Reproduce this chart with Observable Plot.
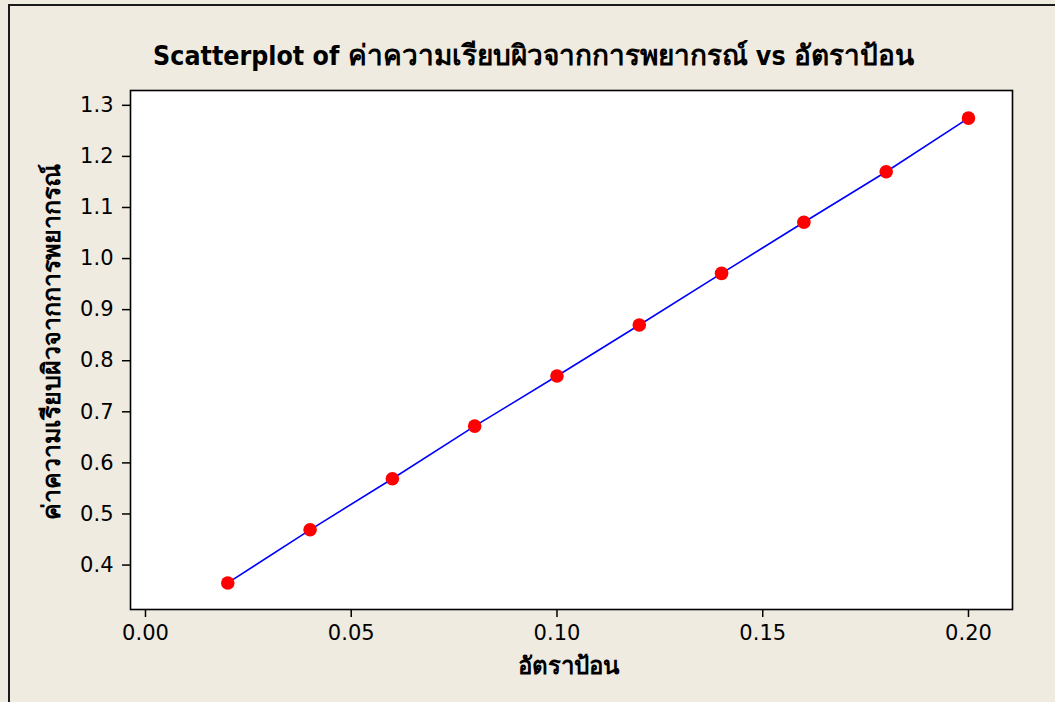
<!DOCTYPE html>
<html>
<head>
<meta charset="utf-8">
<script src="https://cdn.jsdelivr.net/npm/d3@7"></script>
<script src="https://cdn.jsdelivr.net/npm/@observablehq/plot@0.6"></script>
<style>
  html, body { margin: 0; padding: 0; }
  body {
    width: 1055px; height: 702px; overflow: hidden; position: relative;
    background: #EFEBE1;
    font-family: "DejaVu Sans", sans-serif;
  }
  #frame {
    position: absolute; left: 8px; top: 4px; width: 1100px; height: 800px;
    border: 2px solid #1a1a1a; pointer-events: none; box-sizing: border-box;
  }
  #title {
    height: 78px; box-sizing: border-box; padding-top: 40px; padding-left: 12px;
    font-family: "DejaVu Sans Condensed", "DejaVu Sans", sans-serif;
    font-size: 26.5px; font-weight: bold; line-height: 32px; text-align: center; color: #000;
    white-space: nowrap;
  }
  #title .th { font-size: 28px; }
  #chart svg { display: block; }
</style>
</head>
<body>
<div id="frame"></div>
<div id="title"></div>
<div id="chart"></div>
<script>
const titlePrefix = "Scatterplot of ";
const titleJoin = " vs ";
const xLabel = "อัตราป้อน";
const yLabel = "ค่าความเรียบผิวจากการพยากรณ์";
const feedRate = [0.02, 0.04, 0.06, 0.08, 0.10, 0.12, 0.14, 0.16, 0.18, 0.20];
const roughness = [0.365, 0.469, 0.569, 0.672, 0.770, 0.870, 0.971, 1.071, 1.170, 1.275];
const xTicks = [0.00, 0.05, 0.10, 0.15, 0.20];
const yTicks = [0.4, 0.5, 0.6, 0.7, 0.8, 0.9, 1.0, 1.1, 1.2, 1.3];

const data = feedRate.map((x, i) => ({x, y: roughness[i]}));

const titleEl = document.getElementById("title");
const addSpan = (txt, cls) => {
  const s = document.createElement("span");
  if (cls) s.className = cls;
  s.textContent = txt;
  titleEl.appendChild(s);
};
addSpan(titlePrefix);
addSpan(yLabel, "th");
addSpan(titleJoin);
addSpan(xLabel, "th");

const font = '"DejaVu Sans", sans-serif';

const chart = Plot.plot({
  width: 1055,
  height: 624,
  marginLeft: 130,
  marginRight: 43,
  marginTop: 12,
  marginBottom: 93,
  style: {background: "transparent", fontFamily: font, fontSize: "21px", color: "#000"},
  x: {domain: [-0.00364, 0.2107]},
  y: {domain: [0.313, 1.329]},
  marks: [
    Plot.frame({fill: "white", stroke: "none"}),
    Plot.line(data, {x: "x", y: "y", stroke: "#0000FF", strokeWidth: 1.6}),
    Plot.dot(data, {x: "x", y: "y", r: 6.8, fill: "#FF0000", stroke: "none"}),
    Plot.frame({stroke: "#000", strokeWidth: 1.6}),
    Plot.axisX({ticks: xTicks, tickFormat: d => d.toFixed(2), tickSize: 8, tickPadding: 8, label: null, stroke: "#000", strokeWidth: 1.5}),
    Plot.axisY({ticks: yTicks, tickFormat: d => d.toFixed(1), tickSize: 8, tickPadding: 9, label: null, stroke: "#000", strokeWidth: 1.5}),
    Plot.text([xLabel], {frameAnchor: "bottom", lineAnchor: "middle", textAnchor: "middle", dx: -3, dy: 57, text: d => d, fontWeight: "bold", fontSize: 24, fill: "#000"}),
    Plot.text([yLabel], {frameAnchor: "left", lineAnchor: "middle", textAnchor: "middle", dx: -79, dy: -8, rotate: -90, text: d => d, fontWeight: "bold", fontSize: 25, fill: "#000"})
  ]
});
document.getElementById("chart").appendChild(chart);
</script>
</body>
</html>
